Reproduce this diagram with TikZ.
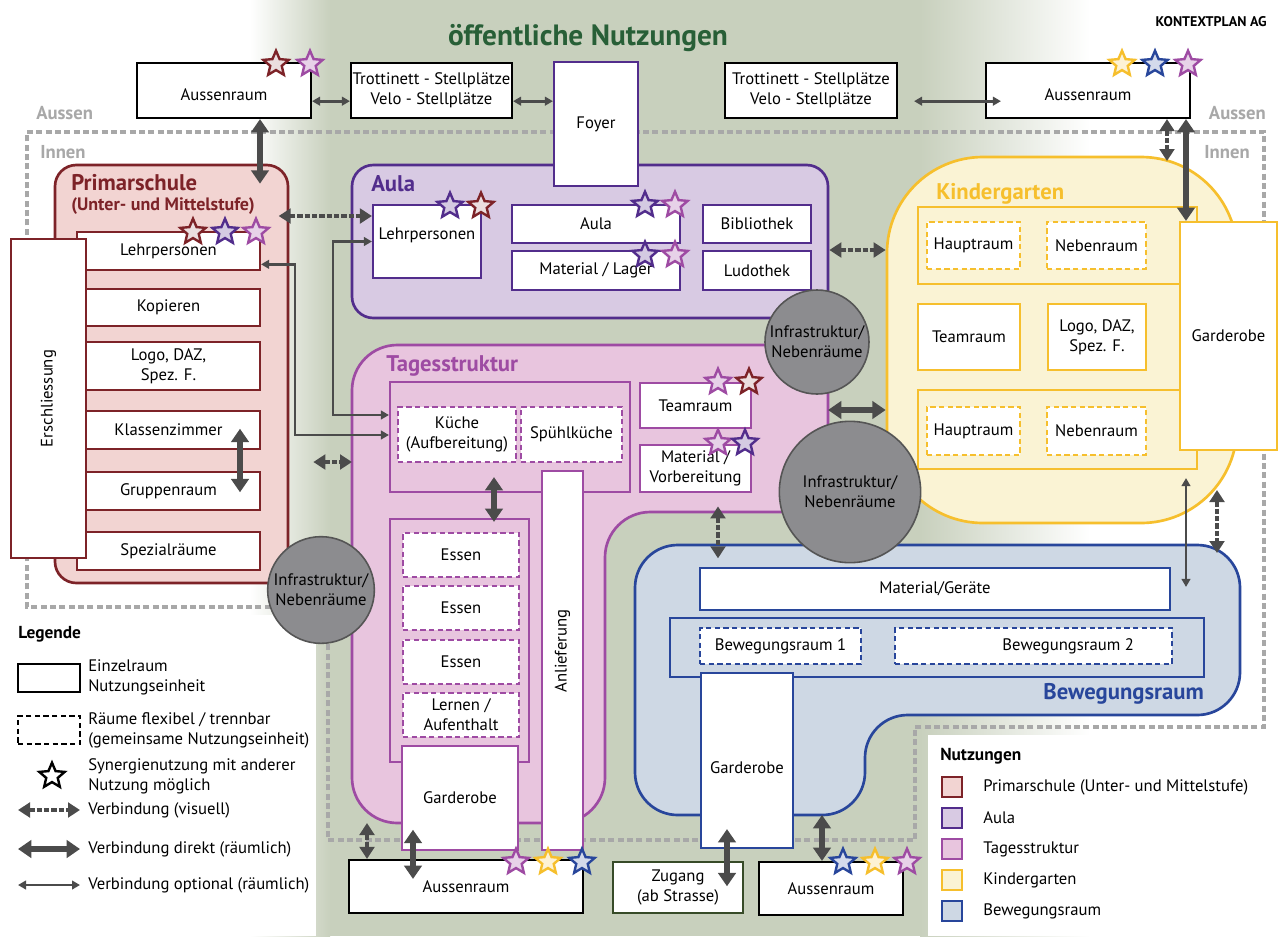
\documentclass[tikz,border=0pt]{standalone}
\usepackage{fontspec}
\setmainfont{PT Sans}
\usetikzlibrary{shapes.geometric,arrows.meta,fit}
\definecolor{bg}{RGB}{200,208,189}
\definecolor{prim}{RGB}{125,35,40}
\definecolor{primfill}{RGB}{242,212,210}
\definecolor{aula}{RGB}{82,45,140}
\definecolor{aulafill}{RGB}{216,202,227}
\definecolor{tages}{RGB}{158,75,163}
\definecolor{tagesfill}{RGB}{232,197,222}
\definecolor{kiga}{RGB}{246,191,45}
\definecolor{kigafill}{RGB}{250,243,212}
\definecolor{beweg}{RGB}{40,70,155}
\definecolor{bewegfill}{RGB}{206,216,228}
\definecolor{arr}{RGB}{75,75,75}
\definecolor{infra}{RGB}{140,140,143}
\definecolor{infrab}{RGB}{85,85,85}
\definecolor{grey}{RGB}{168,168,168}
\definecolor{titlegreen}{RGB}{40,95,55}
\definecolor{zugang}{RGB}{55,75,40}

\begin{document}
\begin{tikzpicture}[x=0.75pt,y=-0.75pt]
  \tikzstyle{every node}=[font=\fontsize{12.5}{15}\selectfont, inner sep=0pt]
  \tikzstyle{room}=[draw, fill=white, line width=1.6pt]
  \tikzstyle{flex}=[room, dash pattern=on 4pt off 2.5pt]
  \tikzstyle{txt}=[label={[align=center]center:#1}]
  \tikzstyle{group}=[draw, line width=1.6pt]
  \tikzstyle{unit}=[draw, line width=2pt, rounded corners=16pt]
  \tikzstyle{title}=[font=\bfseries\fontsize{17}{19}\selectfont, anchor=north west]
  \tikzstyle{infra}=[circle, draw=infrab, fill=infra, line width=1.2pt, align=center]
  \tikzstyle{direct}=[draw=arr, line width=5pt, {Triangle[length=10pt,width=13pt]}-{Triangle[length=10pt,width=13pt]}]
  \tikzstyle{visual}=[draw=arr, line width=3.2pt, dash pattern=on 4pt off 1.5pt, {Triangle[length=9pt,width=11pt]}-{Triangle[length=9pt,width=11pt]}]
  \tikzstyle{optional}=[draw=arr, line width=2pt, {Triangle[length=6pt,width=6.5pt]}-{Triangle[length=6pt,width=6.5pt]}]
  \tikzstyle{innen}=[draw=grey, line width=2.4pt, dash pattern=on 4.5pt off 2.5pt]
  \tikzstyle{syn}=[star, star points=5, star point ratio=2.2, minimum size=20pt, line width=1.8pt]
  \tikzstyle{sprim}=[syn, draw=prim, fill=prim!15]
  \tikzstyle{saula}=[syn, draw=aula, fill=aula!25]
  \tikzstyle{stages}=[syn, draw=tages, fill=tages!25]
  \tikzstyle{skiga}=[syn, draw=kiga, fill=kiga!20]
  \tikzstyle{sbeweg}=[syn, draw=beweg, fill=beweg!20]
  \tikzstyle{legtext}=[anchor=west, align=left]
  \tikzstyle{legbox}=[draw, line width=2pt, minimum size=15pt]

  \useasboundingbox (0,0) rectangle (1282,936);
  \fill[white] (0,0) rectangle (1282,936);
  \shade[left color=white, right color=bg] (250,0) rectangle (330,936);
  \fill[bg] (330,0) rectangle (920,936);
  \shade[left color=bg, right color=white] (920,0) rectangle (1090,936);
  \fill[white] (0,615) rectangle (316,936);
  \fill[white] (928,735) rectangle (1282,936);

  \draw[innen] (280,607) -- (27,607) -- (27,132) -- (1264,132) -- (1264,727) -- (915,727) -- (915,840) -- (328,840) -- (328,630);
  \node[font=\bfseries\fontsize{14}{16}\selectfont, text=grey, anchor=west] (aussenLab) at (36,113) {Aussen};
  \node[font=\bfseries\fontsize{14}{16}\selectfont, text=grey, anchor=east] (aussenLabR) at (1266,113) {Aussen};
  \node[font=\bfseries\fontsize{14}{16}\selectfont, text=grey, anchor=west] (innenLab) at (40,152) {Innen};
  \node[font=\bfseries\fontsize{14}{16}\selectfont, text=grey, anchor=east] (innenLabR) at (1250,152) {Innen};
  \node[font=\bfseries\fontsize{22}{24}\selectfont, text=titlegreen] (titel) at (588,38) {öffentliche Nutzungen};
  \node[font=\bfseries\fontsize{10.5}{12}\selectfont, anchor=east] (firma) at (1267,22) {KONTEXTPLAN AG};

  \node[unit, draw=prim, fill=primfill, fit={(55,165)(288,583)}] (primar) {};
  \node[unit, draw=aula, fill=aulafill, fit={(352,165)(828,318)}] (aula) {};
  \path[draw=tages, fill=tagesfill, line width=2pt, rounded corners=34pt] (352,600) -- (352,345) -- (828,345) -- (828,512) -- (605,512) -- (605,823) -- (352,823) -- cycle;
  \node[unit, draw=kiga, fill=kigafill, rounded corners=72pt, fit={(887,157)(1237,523)}] (kiga) {};
  \path[draw=beweg, fill=bewegfill, line width=2pt, rounded corners=32pt] (635,700) -- (635,545) -- (1240,545) -- (1240,715) -- (865,715) -- (865,815) -- (635,815) -- cycle;

  \node[title, text=prim, align=left, font=\bfseries\fontsize{13.5}{15}\selectfont] (primTitel) at (71,174) {{\fontsize{17}{17}\selectfont Primarschule}\\(Unter- und Mittelstufe)};
  \node[title, text=aula] (aulaTitel) at (371,175) {Aula};
  \node[title, text=tages] (tagesTitel) at (386,355) {Tagesstruktur};
  \node[title, text=kiga] (kigaTitel) at (936,183) {Kindergarten};
  \node[title, text=beweg, anchor=base east] (bewegTitel) at (1204,699) {Bewegungsraum};

  \node[room, draw=black, fit={(137,63)(311,118)}, label={[yshift=-3pt]center:Aussenraum}] (aussenL) {};
  \node[room, draw=black, fit={(351,63)(512,118)}, txt={Trottinett - Stellplätze\\Velo - Stellplätze}] (trottL) {};
  \node[room, draw=black, fit={(725,63)(897,118)}, txt={Trottinett - Stellplätze\\Velo - Stellplätze}] (trottR) {};
  \node[room, draw=black, fit={(986,63)(1190,118)}, label={[yshift=-3pt]center:Aussenraum}] (aussenR) {};
  \node[room, draw=aula, fit={(554,62)(638,186)}, txt={Foyer}] (foyer) {};

  \node[room, draw=prim, fit={(77,232)(260,270)}, txt={Lehrpersonen}] (pLehr) {};
  \node[room, draw=prim, fit={(77,289)(260,326)}, txt={Kopieren}] (pKop) {};
  \node[room, draw=prim, fit={(77,342)(260,390)}, txt={Logo, DAZ,\\Spez. F.}] (pLogo) {};
  \node[room, draw=prim, fit={(77,411)(260,449)}, txt={Klassenzimmer}] (pKlass) {};
  \node[room, draw=prim, fit={(77,472)(260,510)}, txt={Gruppenraum}] (pGrup) {};
  \node[room, draw=prim, fit={(77,532)(260,570)}, txt={Spezialräume}] (pSpez) {};
  \node[room, draw=prim, fit={(11,239)(86,558)}, label={[rotate=90]center:Erschliessung}] (pErsch) {};

  \node[room, draw=aula, fit={(373,205)(481,278)}, label={[yshift=5pt]center:Lehrpersonen}] (aLehr) {};
  \node[room, draw=aula, fit={(512,205)(680,243)}, txt={Aula}] (aAula) {};
  \node[room, draw=aula, fit={(512,251)(680,290)}, txt={Material / Lager}] (aMat) {};
  \node[room, draw=aula, fit={(703,205)(811,243)}, txt={Bibliothek}] (aBib) {};
  \node[room, draw=aula, fit={(703,251)(811,290)}, txt={Ludothek}] (aLudo) {};

  \node[group, draw=tages, fill=tagesfill, fit={(390,382)(630,492)}] (tKitchen) {};
  \node[flex, draw=tages, fit={(398,407)(516,462)}, txt={Küche\\(Aufbereitung)}] (tKueche) {};
  \node[flex, draw=tages, fit={(521,407)(622,462)}, txt={Spühlküche}] (tSpuel) {};
  \node[room, draw=tages, fit={(640,383)(751,428)}, txt={Teamraum}] (tTeam) {};
  \node[room, draw=tages, fit={(640,445)(751,492)}, txt={Material /\\Vorbereitung}] (tMatVor) {};
  \node[group, draw=tages, fill=tagesfill, fit={(390,519)(529,762)}] (tEssen) {};
  \node[flex, draw=tages, fit={(403,533)(519,577)}, txt={Essen}] (tEssen1) {};
  \node[flex, draw=tages, fit={(403,586)(519,630)}, txt={Essen}] (tEssen2) {};
  \node[flex, draw=tages, fit={(403,640)(519,684)}, txt={Essen}] (tEssen3) {};
  \node[flex, draw=tages, fit={(403,693)(519,737)}, txt={Lernen /\\Aufenthalt}] (tLernen) {};
  \node[room, draw=tages, fit={(402,746)(518,850)}, txt={Garderobe}] (tGard) {};
  \node[room, draw=tages, fit={(542,471)(583,850)}, label={[rotate=90, xshift=7pt]center:Anlieferung}] (tAnl) {};

  \node[group, draw=kiga, fill=kigafill, fit={(918,207)(1197,284)}] (kRow1) {};
  \node[flex, draw=kiga, fit={(927,222)(1020,269)}, txt={Hauptraum}] (kHaupt1) {};
  \node[flex, draw=kiga, fit={(1047,222)(1146,269)}, txt={Nebenraum}] (kNeben1) {};
  \node[room, draw=kiga, fit={(918,304)(1020,370)}, txt={Teamraum}] (kTeam) {};
  \node[room, draw=kiga, fit={(1048,304)(1146,370)}, txt={Logo, DAZ,\\Spez. F.}] (kLogo) {};
  \node[group, draw=kiga, fill=kigafill, fit={(918,390)(1197,469)}] (kRow3) {};
  \node[flex, draw=kiga, fit={(927,407)(1020,455)}, txt={Hauptraum}] (kHaupt2) {};
  \node[flex, draw=kiga, fit={(1047,407)(1146,455)}, txt={Nebenraum}] (kNeben2) {};
  \node[room, draw=kiga, fit={(1180,222)(1277,450)}, txt={Garderobe}] (kGard) {};

  \node[room, draw=beweg, fit={(700,568)(1170,610)}, txt={Material/Geräte}] (bMat) {};
  \node[group, draw=beweg, fill=bewegfill, fit={(670,618)(1204,677)}] (bHalle) {};
  \node[flex, draw=beweg, fit={(700,628)(861,664)}, txt={Bewegungsraum 1}] (bRaum1) {};
  \node[flex, draw=beweg, fit={(895,628)(1172,664)}, label={[xshift=26pt]center:Bewegungsraum 2}] (bRaum2) {};
  \node[room, draw=beweg, fit={(701,673)(793,848)}, label={[yshift=-5pt]center:Garderobe}] (bGard) {};

  \node[room, draw=black, fit={(349,860)(583,913)}, txt={Aussenraum}] (aussenT) {};
  \node[room, draw=zugang, fit={(613,862)(743,913)}, txt={Zugang\\(ab Strasse)}] (zugang) {};
  \node[room, draw=black, fit={(759,862)(903,915)}, txt={Aussenraum}] (aussenB) {};

  \node[infra, minimum size=78pt] (infra1) at (817,342) {Infrastruktur/\\Nebenräume};
  \node[infra, minimum size=106pt] (infra2) at (850,492) {Infrastruktur/\\Nebenräume};
  \node[infra, minimum size=80pt] (infra3) at (321,590) {Infrastruktur/\\Nebenräume};

  \coordinate (tW) at (352,462);
  \coordinate (tE) at (828,410);
  \coordinate (tS) at (367,823);
  \coordinate (bN) at (718,545);
  \coordinate (bS) at (822,815);
  \coordinate (kS) at (1217,490);
  \coordinate (bNE) at (1217,553);

  \draw[optional] ([yshift=-8pt]aussenL.east) -- ([yshift=-8pt]trottL.west);
  \draw[optional] ([yshift=-8pt]trottL.east) -- ([yshift=-8pt]trottL.east -| foyer.west);
  \draw[optional] ([xshift=12pt,yshift=-8pt]trottR.east) -- ([xshift=12pt,yshift=-8pt]aussenR.west);
  \draw[direct, shorten >=-15pt] (aussenL.south -| 260,0) -- (primar.north -| 260,0);
  \draw[direct] (aussenR.south -| 1186,0) -- (kGard.north -| 1186,0);
  \draw[visual, shorten >=-4pt] (aussenR.south -| 1167,0) -- (kiga.north -| 1167,0);
  \draw[visual, shorten <=-8pt] (primar.east |- 0,216) -- (aLehr.west |- 0,216);
  \draw[visual, shorten <=18pt] (primar.east |- tW) -- (tW);
  \draw[visual] (aula.east |- 0,250) -- (kiga.west |- 0,250);
  \draw[direct] (tE) -- (kiga.west |- tE);
  \draw[optional] ([yshift=-10pt]pLehr.east) -| (295,435) -- (tKitchen.west |- 295,435);
  \draw[optional] (aLehr.west) -| (333,415) -- (tKitchen.west |- 333,415);
  \draw[direct, shorten <=-16pt, shorten >=-16pt] (pKlass.south -| 240,0) -- (pGrup.north -| 240,0);
  \draw[direct, shorten <=-12pt, shorten >=-3pt] (tKitchen.south -| 494,0) -- (tEssen.north -| 494,0);
  \draw[visual, shorten <=10pt, shorten >=-10pt] (tMatVor.south -| bN) -- (bN);
  \draw[optional, shorten <=6pt, shorten >=-15pt] (kRow3.south -| 1186,0) -- (bMat.north -| 1186,0);
  \draw[visual] (kS) -- (bNE);
  \draw[visual] (tS) -- (aussenT.north -| tS);
  \draw[direct, shorten <=-16pt, shorten >=-15pt] (tGard.south -| 413,0) -- (aussenT.north -| 413,0);
  \draw[direct, shorten <=-15pt, shorten >=-19pt] (bGard.south -| 727,0) -- (zugang.north -| 727,0);
  \draw[direct] (bS) -- (aussenB.north -| bS);

  \node[sprim] (st1) at (276,64) {};
  \node[stages] (st2) at (310,64) {};
  \node[skiga] (st3) at (1122,64) {};
  \node[sbeweg] (st4) at (1155,64) {};
  \node[stages] (st5) at (1188,64) {};
  \node[sprim] (st6) at (193,232) {};
  \node[saula] (st7) at (225,232) {};
  \node[stages] (st8) at (256,232) {};
  \node[saula] (st9) at (450,206) {};
  \node[sprim] (st10) at (481,206) {};
  \node[saula] (st11) at (645,205) {};
  \node[stages] (st12) at (675,205) {};
  \node[saula] (st13) at (645,255) {};
  \node[stages] (st14) at (675,255) {};
  \node[stages] (st15) at (718,382) {};
  \node[sprim] (st16) at (749,382) {};
  \node[stages] (st17) at (718,443) {};
  \node[saula] (st18) at (745,443) {};
  \node[stages] (st19) at (516,862) {};
  \node[skiga] (st20) at (548,862) {};
  \node[sbeweg] (st21) at (582,862) {};
  \node[sbeweg] (st22) at (843,862) {};
  \node[skiga] (st23) at (875,862) {};
  \node[stages] (st24) at (907,862) {};

  \node[font=\bfseries\fontsize{13}{15}\selectfont, anchor=west] (legende) at (18,634) {Legende};
  \node[room, draw=black, line width=2pt, fit={(18,664)(80,692)}] (lEinzel) {};
  \node[legtext] (lEinzelT) at (88,677) {Einzelraum\\Nutzungseinheit};
  \node[flex, draw=black, fit={(18,716)(80,744)}] (lFlex) {};
  \node[legtext] (lFlexT) at (88,730) {Räume flexibel / trennbar\\(gemeinsame Nutzungseinheit)};
  \node[syn, draw=black, fill=white] (lStar) at (52,776) {};
  \node[legtext] (lStarT) at (88,776) {Synergienutzung mit anderer\\Nutzung möglich};
  \coordinate (lv0) at (18,810);
  \coordinate (ld0) at (18,849);
  \coordinate (lo0) at (18,885);
  \node[legtext] (lVis) at (88,810) {Verbindung (visuell)};
  \node[legtext] (lDir) at (88,849) {Verbindung direkt (räumlich)};
  \node[legtext] (lOpt) at (88,885) {Verbindung optional (räumlich)};
  \draw[visual, shorten >=6pt] (lv0) -- (lVis.west);
  \draw[direct, shorten >=6pt] (ld0) -- (lDir.west);
  \draw[optional, shorten >=6pt] (lo0) -- (lOpt.west);

  \node[font=\bfseries\fontsize{13}{15}\selectfont, anchor=west] (nutzungen) at (940,756) {Nutzungen};
  \node[legbox, draw=prim, fill=primfill] (nPrim) at (952,787) {};
  \node[legbox, draw=aula, fill=aulafill] (nAula) at (952,818) {};
  \node[legbox, draw=tages, fill=tagesfill] (nTages) at (952,849) {};
  \node[legbox, draw=kiga, fill=kigafill] (nKiga) at (952,880) {};
  \node[legbox, draw=beweg, fill=bewegfill] (nBeweg) at (952,911) {};
  \node[legtext] (nPrimT) at (983,787) {Primarschule (Unter- und Mittelstufe)};
  \node[legtext] (nAulaT) at (983,818) {Aula};
  \node[legtext] (nTagesT) at (983,849) {Tagesstruktur};
  \node[legtext] (nKigaT) at (983,880) {Kindergarten};
  \node[legtext] (nBewegT) at (983,911) {Bewegungsraum};
\end{tikzpicture}
\end{document}
